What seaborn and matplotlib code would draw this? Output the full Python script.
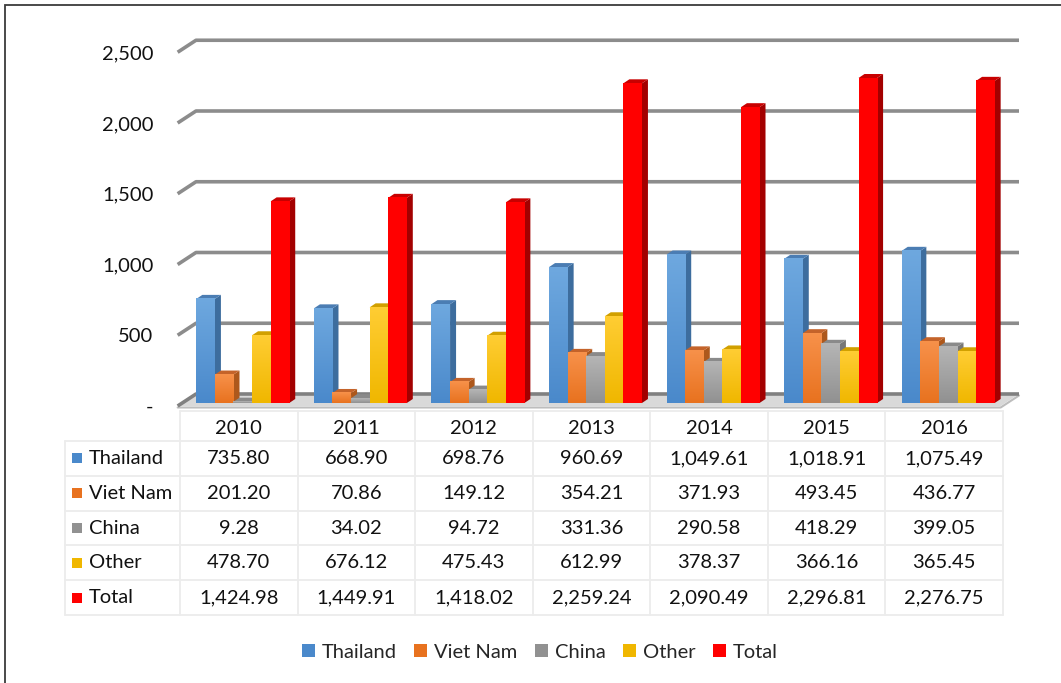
import numpy as np
import pandas as pd
import matplotlib
matplotlib.use('Agg')
import matplotlib.pyplot as plt
import seaborn as sns
from matplotlib.patches import Polygon, Patch, Rectangle
from matplotlib.colors import LinearSegmentedColormap
from matplotlib.transforms import ScaledTranslation

# data
years = ['2010', '2011', '2012', '2013', '2014', '2015', '2016']
series = ['Thailand', 'Viet Nam', 'China', 'Other', 'Total']
thailand = [735.80, 668.90, 698.76, 960.69, 1049.61, 1018.91, 1075.49]
viet_nam = [201.20, 70.86, 149.12, 354.21, 371.93, 493.45, 436.77]
china = [9.28, 34.02, 94.72, 331.36, 290.58, 418.29, 399.05]
other = [478.70, 676.12, 475.43, 612.99, 378.37, 366.16, 365.45]
total = [1424.98, 1449.91, 1418.02, 2259.24, 2090.49, 2296.81, 2276.75]
y_ticks = [0, 500, 1000, 1500, 2000, 2500]
y_tick_labels = ['-', '500', '1,000', '1,500', '2,000', '2,500']

values = [thailand, viet_nam, china, other, total]
df = pd.DataFrame({
    'year': np.tile(years, len(series)),
    'series': np.repeat(series, len(years)),
    'value': np.concatenate(values),
})

# colours: (front top, front bottom, side, top cap)
shades = {
    'Thailand': ('#6ea8df', '#4a89cb', '#3d6d9e', '#4b7db3'),
    'Viet Nam': ('#f7914a', '#e8721f', '#ad581c', '#c4632a'),
    'China':    ('#b5b5b5', '#919191', '#777777', '#8a8a8a'),
    'Other':    ('#ffcd33', '#f0b700', '#b88a00', '#d1a000'),
    'Total':    ('#ff0000', '#ff0000', '#a30000', '#c80000'),
}
palette = {s: shades[s][1] for s in series}

FONT = ['Lato', 'DejaVu Sans']
sns.set_theme(style='white')
plt.rcParams['font.family'] = FONT
TXT = '#111111'
FS = 14.5

W, H = 1061, 683
fig = plt.figure(figsize=(W / 100, H / 100), dpi=100)

# main 3d-looking column area (front plane of the bars)
x_left, x_right = 180, 1003
y_zero, y_top = 403, 25
px_per_unit = 0.1415
ax = fig.add_axes([x_left / W, 1 - y_zero / H, (x_right - x_left) / W, (y_zero - y_top) / H])
ymax = (y_zero - y_top) / px_per_unit

sns.barplot(data=df, x='year', y='value', hue='series', palette=palette,
            width=0.79, saturation=1, legend=False, ax=ax, errorbar=None)

col_px = (x_right - x_left) / 7
dxw, dyw = 16 / col_px, 12 / px_per_unit      # back wall offset
dxb, dyb = 6 / col_px, 4 / px_per_unit        # bar depth
shift = 4 / col_px
lab_off = 3 / px_per_unit                     # axis plane sits a bit lower than bar fronts

# back wall gridlines
grid_c = '#8c8c8c'
for v in y_ticks[1:]:
    f = v - lab_off
    ax.plot([-0.52, -0.5 + dxw, 6.5 + dxw], [f, f + dyw, f + dyw],
            color=grid_c, lw=2.6, zorder=1, clip_on=False, solid_capstyle='butt')

# floor slab
f0 = -lab_off
floor = Polygon([(-0.52, f0), (6.48, f0), (6.5 + dxw, f0 + dyw), (-0.5 + dxw, f0 + dyw)],
                closed=True, facecolor='#d9d9d9', edgecolor='none', zorder=1.2, clip_on=False)
ax.add_patch(floor)
ax.plot([-0.52, -0.5 + dxw, 6.5 + dxw], [f0, f0 + dyw, f0 + dyw], color='#808080', lw=2.6,
        zorder=1.3, clip_on=False, solid_capstyle='butt')
ax.plot([-0.52, 6.48, 6.5 + dxw], [f0 - 1.5 / px_per_unit] * 2 + [f0 + dyw - 1.5 / px_per_unit],
        color='#bdbdbd', lw=1.5, zorder=1.25, clip_on=False)

grad = np.linspace(0, 1, 64).reshape(-1, 1)
for k, (name, cont) in enumerate(zip(series, ax.containers)):
    top_c, bot_c, side_c, cap_c = shades[name]
    cmap = LinearSegmentedColormap.from_list(name, [bot_c, top_c])
    for bar in cont:
        bar.set_x(bar.get_x() + shift)
        x0, w, h = bar.get_x(), bar.get_width(), bar.get_height()
        x1 = x0 + w
        z = 2 + k * 0.1
        side = Polygon([(x1, 0), (x1 + dxb, dyb), (x1 + dxb, h + dyb), (x1, h)],
                       closed=True, facecolor=side_c, edgecolor='none', zorder=z)
        cap = Polygon([(x0, h), (x0 + dxb, h + dyb), (x1 + dxb, h + dyb), (x1, h)],
                      closed=True, facecolor=cap_c, edgecolor='none', zorder=z)
        ax.add_patch(side)
        ax.add_patch(cap)
        bar.set_zorder(z + 0.03)
        bar.set_edgecolor('none')
        ax.imshow(grad, extent=[x0, x1, 0, h], origin='lower', aspect='auto',
                  cmap=cmap, zorder=z + 0.05, interpolation='bilinear')

ax.set_xlim(-0.5, 6.5)
ax.set_ylim(0, ymax)
ax.set_yticks(y_ticks)
ax.set_yticklabels(y_tick_labels, fontsize=FS, color=TXT)
ax.tick_params(axis='y', length=0, pad=19)
down = ScaledTranslation(0, -3 / 100, fig.dpi_scale_trans)
for lab in ax.get_yticklabels():
    lab.set_transform(lab.get_transform() + down)
ax.set_xticks([])
ax.set_xlabel('')
ax.set_ylabel('')
for s in ax.spines.values():
    s.set_visible(False)
ax.patch.set_alpha(0)

# data table below the columns
tbl_top, tbl_bottom = 411, 615
row_px = 34.8
head_h = (tbl_bottom - tbl_top) / row_px - 5
tax = fig.add_axes([x_left / W, 1 - tbl_bottom / H, (x_right - x_left) / W, (tbl_bottom - tbl_top) / H])
tax.set_xlim(-0.5, 6.5)
tax.set_ylim(5, -head_h)
tax.axis('off')
line_c = '#ececec'
label_left = -0.5 - (x_left - 65) / col_px
for i in range(8):
    tax.plot([-0.5 + i, -0.5 + i], [-head_h, 5], color=line_c, lw=1.3, clip_on=False)
tax.plot([label_left, label_left], [0, 5], color=line_c, lw=1.3, clip_on=False)
tax.plot([-0.5, 6.5], [-head_h, -head_h], color=line_c, lw=1.3, clip_on=False)
for r in range(6):
    tax.plot([label_left, 6.5], [r, r], color=line_c, lw=1.3, clip_on=False)

for i, yr in enumerate(years):
    tax.text(i, -head_h / 2 + 2.5 / row_px, yr, ha='center', va='center', fontsize=FS, color=TXT)
for r, (name, vals) in enumerate(zip(series, values)):
    yc = r + 0.5
    tax.add_patch(Rectangle((label_left + 7 / col_px, yc - 5 / row_px), 10 / col_px, 10 / row_px,
                            facecolor=shades[name][1], edgecolor='none', clip_on=False))
    tax.text(label_left + 24 / col_px, yc, name, ha='left', va='center', fontsize=FS, color=TXT)
    for i, v in enumerate(vals):
        tax.text(i, yc, f'{v:,.2f}', ha='center', va='center', fontsize=FS, color=TXT)

# legend
handles = [Patch(facecolor=shades[s][1], edgecolor='none', label=s) for s in series]
fig.legend(handles=handles, loc='center', bbox_to_anchor=(540 / W, 1 - 652 / H), ncol=5,
           frameon=False, fontsize=FS, handlelength=0.65, handleheight=0.65,
           handletextpad=0.35, columnspacing=0.85)

# outer chart border (left and top edges visible)
fig.add_artist(Rectangle((5 / W, -0.1), 2, 1.1 - 5 / H, transform=fig.transFigure,
                         fill=False, edgecolor='#3a3a3a', lw=1.3))

fig.savefig('out.png', dpi=100, facecolor='white')
